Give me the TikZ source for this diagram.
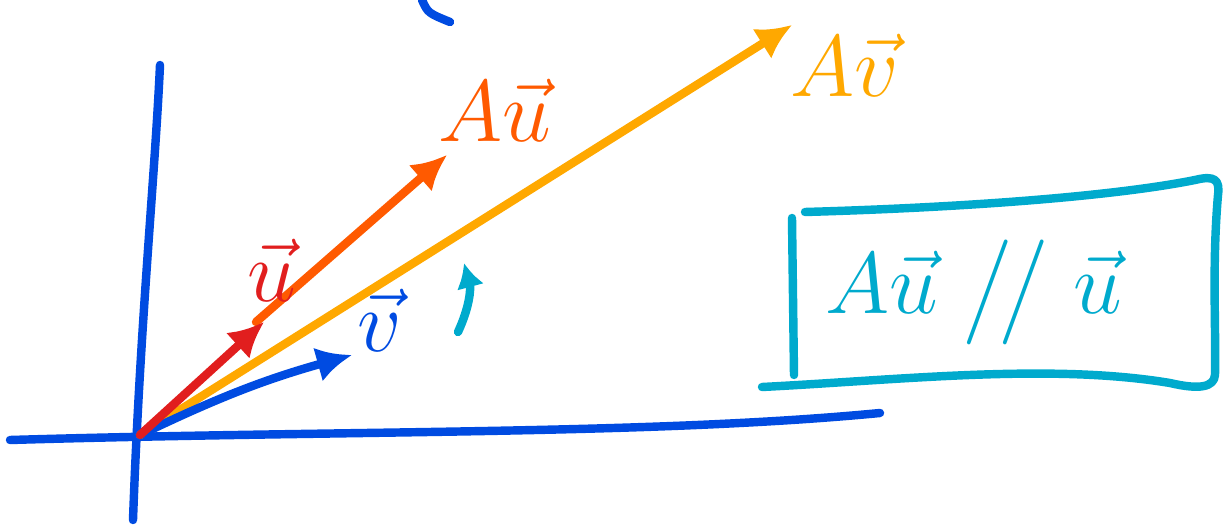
\documentclass[tikz,border=0pt]{standalone}
\usepackage{amsmath}
\usetikzlibrary{arrows,arrows.meta}
\definecolor{axblue}{RGB}{0,75,225}
\definecolor{ured}{RGB}{225,30,30}
\definecolor{auorange}{RGB}{255,90,0}
\definecolor{avyellow}{RGB}{255,168,0}
\definecolor{boxcyan}{RGB}{0,170,205}
\tikzstyle{pen} = [line width=2.4pt, line cap=round, line join=round]
\tikzstyle{vec} = [style={pen,-{Latex[length=10pt,width=10pt]}}]
\tikzstyle{lbl} = [inner sep=1pt, font=\fontsize{26}{30}\selectfont]

\begin{document}
\begin{tikzpicture}
        \useasboundingbox (0,0) rectangle (12.32,5.25);
        % axes
        \coordinate (o) at (1.40,0.90);
        \coordinate (xl) at (0.10,0.85);
        \coordinate (xr) at (8.80,1.12);
        \coordinate (yt) at (1.60,4.60);
        \coordinate (yb) at (1.33,0.05);
        \draw[pen, axblue] (xl) .. controls (3.5,0.95) and (6.5,0.90) .. (xr);
        \draw[pen, axblue] (yb) .. controls (1.40,2.0) and (1.55,3.5) .. (yt);
        \draw[pen, axblue] (4.22,5.25) .. controls (4.28,5.12) .. (4.50,5.03);
        % vectors
        \coordinate (u) at (2.64,2.03);
        \coordinate (au) at (4.47,3.70);
        \coordinate (av) at (7.92,5.00);
        \coordinate (v) at (3.52,1.70);
        \draw[vec, avyellow] (o) -- (av);
        \draw[vec, axblue] (o) to[bend left=5] (v);
        \draw[vec, auorange] (2.56,2.03) -- (au);
        \draw[vec, ured] (o) -- (u);
        % labels
        \node[lbl, ured] (lu) at (2.72,2.55) {$\vec{u}$};
        \node[lbl, auorange] (lau) at (4.95,4.15) {$A\vec{u}$};
        \node[lbl, avyellow] (lav) at (8.45,4.60) {$A\vec{v}$};
        \node[lbl, axblue] (lv) at (3.80,2.05) {$\vec{v}$};
        \coordinate (cs) at (4.58,1.93);
        \coordinate (ce) at (4.64,2.62);
        \draw[pen, boxcyan, -{Latex[length=7pt,width=8pt]}] (cs) to[bend right=20] (ce);
        % result box
        \draw[pen, boxcyan] (7.92,3.07) -- (7.94,1.50);
        \draw[pen, boxcyan] (8.05,3.13) .. controls (9.8,3.18) and (11.2,3.30) .. (11.95,3.45)
          .. controls (12.15,3.50) and (12.20,3.45) .. (12.18,3.30)
          .. controls (12.12,2.6) and (12.16,2.0) .. (12.15,1.50)
          .. controls (12.14,1.38) and (12.00,1.35) .. (11.70,1.42)
          .. controls (10.5,1.62) and (9.0,1.45) .. (7.62,1.38);
        \node[boxcyan, font=\fontsize{36}{40}\selectfont] (eq) at (9.74,2.33)
          {$A\vec{u}\;\big/\!\big/\;\vec{u}$};
      \end{tikzpicture}
\end{document}
